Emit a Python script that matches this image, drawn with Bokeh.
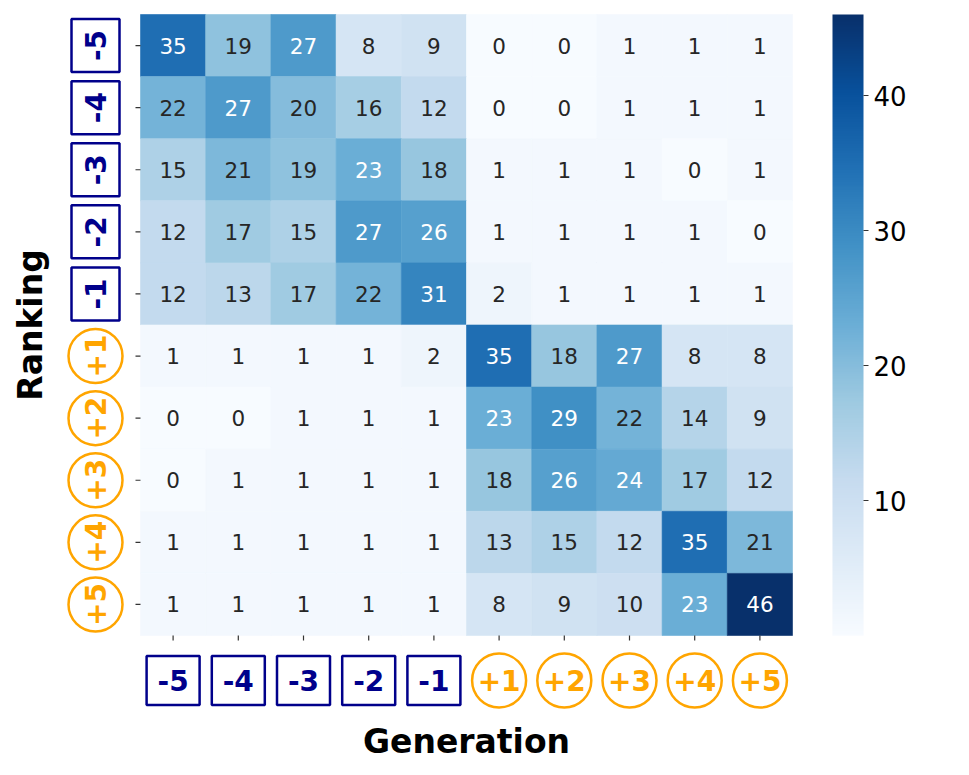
import math
from bokeh.plotting import figure
from bokeh.models import Range1d, ColumnDataSource, LinearColorMapper, ColorBar, FixedTicker
from bokeh.palettes import Blues256
from bokeh.core.properties import value
from bokeh.embed import file_html
from bokeh.resources import INLINE

# ---------------- data ----------------
gen_labels = ["-5", "-4", "-3", "-2", "-1", "+1", "+2", "+3", "+4", "+5"]
rank_labels = ["-5", "-4", "-3", "-2", "-1", "+1", "+2", "+3", "+4", "+5"]
row_m5 = [35, 19, 27, 8, 9, 0, 0, 1, 1, 1]
row_m4 = [22, 27, 20, 16, 12, 0, 0, 1, 1, 1]
row_m3 = [15, 21, 19, 23, 18, 1, 1, 1, 0, 1]
row_m2 = [12, 17, 15, 27, 26, 1, 1, 1, 1, 0]
row_m1 = [12, 13, 17, 22, 31, 2, 1, 1, 1, 1]
row_p1 = [1, 1, 1, 1, 2, 35, 18, 27, 8, 8]
row_p2 = [0, 0, 1, 1, 1, 23, 29, 22, 14, 9]
row_p3 = [0, 1, 1, 1, 1, 18, 26, 24, 17, 12]
row_p4 = [1, 1, 1, 1, 1, 13, 15, 12, 35, 21]
row_p5 = [1, 1, 1, 1, 1, 8, 9, 10, 23, 46]
counts = [row_m5, row_m4, row_m3, row_m2, row_m1, row_p1, row_p2, row_p3, row_p4, row_p5]
cbar_ticks = [10, 20, 30, 40]
vmin, vmax = 0, 46

# ---------------- geometry (pixels) ----------------
W, H = 955, 760
X0, Y0 = 140, 14         # heatmap top-left in figure px
CW, CH = 65.2, 62.1      # cell size in px

def dx(px):
    return (px - X0) / CW

def dy(py):
    return (py - Y0) / CH

NAVY = "#00008B"
ORANGE = "#FFA500"
FONT = value("DejaVu Sans")

palette = list(reversed(Blues256))
mapper = LinearColorMapper(palette=palette, low=vmin, high=vmax)

def map_color(v):
    idx = int((v - vmin) / (vmax - vmin) * len(palette))
    idx = min(max(idx, 0), len(palette) - 1)
    return palette[idx]

def rel_lum(hexc):
    h = hexc.lstrip("#")
    rgb = [int(h[k:k + 2], 16) / 255 for k in (0, 2, 4)]
    lin = [c / 12.92 if c <= 0.03928 else ((c + 0.055) / 1.055) ** 2.4 for c in rgb]
    return 0.2126 * lin[0] + 0.7152 * lin[1] + 0.0722 * lin[2]

xs, ys, vs, txt, tcol = [], [], [], [], []
for i, row in enumerate(counts):
    for j, v in enumerate(row):
        xs.append(j + 0.5)
        ys.append(i + 0.5)
        vs.append(v)
        txt.append(str(v))
        tcol.append("#262626" if rel_lum(map_color(v)) > 0.408 else "white")
src = ColumnDataSource(dict(x=xs, y=ys, v=vs, t=txt, c=tcol))

p = figure(width=W, height=H,
           x_range=Range1d(-X0 / CW, (W - X0) / CW),
           y_range=Range1d((H - Y0) / CH, -Y0 / CH),
           x_axis_type=None, y_axis_type=None,
           toolbar_location=None, output_backend="svg", min_border=0)
p.outline_line_color = None
p.background_fill_color = "white"
p.border_fill_color = "white"

# heatmap cells
p.rect(x="x", y="y", width=1, height=1, source=src,
       fill_color={"field": "v", "transform": mapper},
       line_color={"field": "v", "transform": mapper}, line_width=0.6)
p.text(x="x", y="y", text="t", source=src, text_color="c",
       text_align="center", text_baseline="middle",
       text_font=FONT, text_font_size="21.5px")

n = len(gen_labels)
centers = [k + 0.5 for k in range(n)]

# tick marks
p.segment(x0=centers, y0=[10] * n, x1=centers, y1=[10 + 5 / CH] * n,
          line_color="#333333", line_width=1.2)
p.segment(x0=[-5 / CW] * n, y0=centers, x1=[0] * n, y1=centers,
          line_color="#333333", line_width=1.2)

# x tick labels (boxes / circles)
xl_y = dy(680)
neg_x = [c for c, l in zip(centers, gen_labels) if l.startswith("-")]
pos_x = [c for c, l in zip(centers, gen_labels) if not l.startswith("-")]
p.rect(x=neg_x, y=[xl_y] * len(neg_x), width=53, height=49,
       width_units="screen", height_units="screen",
       fill_color="white", line_color=NAVY, line_width=2.5)
p.scatter(x=pos_x, y=[xl_y] * len(pos_x), size=54, marker="circle",
          fill_color="white", line_color=ORANGE, line_width=2.5)
p.text(x=centers, y=[xl_y] * n, text=gen_labels,
       text_color=[NAVY if l.startswith("-") else ORANGE for l in gen_labels],
       text_align="center", text_baseline="middle",
       text_font=FONT, text_font_style="bold", text_font_size="28px")

# y tick labels (rotated)
yl_x = dx(95)
neg_y = [c for c, l in zip(centers, rank_labels) if l.startswith("-")]
pos_y = [c for c, l in zip(centers, rank_labels) if not l.startswith("-")]
p.rect(x=[yl_x] * len(neg_y), y=neg_y, width=48, height=53,
       width_units="screen", height_units="screen",
       fill_color="white", line_color=NAVY, line_width=2.5)
p.scatter(x=[yl_x] * len(pos_y), y=pos_y, size=54, marker="circle",
          fill_color="white", line_color=ORANGE, line_width=2.5)
p.text(x=[yl_x] * n, y=centers, text=rank_labels, angle=math.pi / 2,
       text_color=[NAVY if l.startswith("-") else ORANGE for l in rank_labels],
       text_align="center", text_baseline="middle",
       text_font=FONT, text_font_style="bold", text_font_size="28px")

# axis titles
p.text(x=[5], y=[dy(741)], text=["Generation"], text_align="center",
       text_baseline="middle", text_font=FONT, text_font_style="bold",
       text_font_size="33px", text_color="black")
p.text(x=[dx(30)], y=[5], text=["Ranking"], angle=math.pi / 2,
       text_align="center", text_baseline="middle", text_font=FONT,
       text_font_style="bold", text_font_size="33px", text_color="black")

# colorbar
cb = ColorBar(color_mapper=mapper, ticker=FixedTicker(ticks=cbar_ticks),
              width=31, height=621, padding=0,
              location=(832, H - 635),
              major_tick_in=0, major_tick_out=5,
              major_tick_line_color="#333333", major_tick_line_width=1.2,
              label_standoff=5,
              major_label_text_font="DejaVu Sans",
              major_label_text_font_size="26px",
              major_label_text_color="black",
              bar_line_color=None, border_line_color=None,
              background_fill_color=None)
p.add_layout(cb)

open("out.html", "w").write(file_html(p, INLINE))
